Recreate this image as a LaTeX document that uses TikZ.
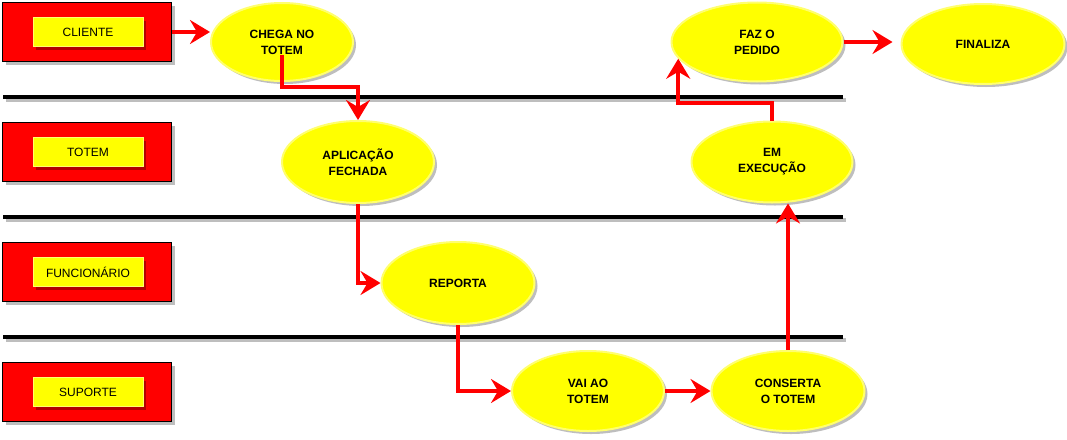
\documentclass[tikz,border=0pt]{standalone}
\usepackage{fontspec}
\setmainfont{Liberation Sans}
\usetikzlibrary{shapes.geometric,shadows,arrows.meta}
\definecolor{ylw}{RGB}{255,255,0}
\definecolor{ylwb}{RGB}{255,255,110}
\definecolor{drk}{RGB}{178,0,0}
\definecolor{shd}{RGB}{190,190,190}
\tikzset{
  lanebox/.style={rectangle, fill=red, draw=black, line width=1.3pt, minimum width=169pt, minimum height=59pt, inner sep=0pt,
    drop shadow={shadow xshift=3pt, shadow yshift=-3pt, fill=shd, opacity=1}},
  lanelabel/.style={rectangle, fill=ylw, draw=ylwb, line width=0.8pt, minimum width=110pt, minimum height=29pt, inner sep=0pt,
    font=\fontsize{12}{14}\selectfont,
    drop shadow={shadow xshift=3pt, shadow yshift=-3pt, fill=drk, opacity=1}},
  stepell/.style={ellipse, fill=ylw, draw=ylwb, line width=2pt, inner sep=0pt, align=center,
    font=\fontsize{12}{16}\selectfont\bfseries,
    drop shadow={shadow xshift=3pt, shadow yshift=-3pt, fill=shd, opacity=1}},
  arr/.style={draw=red, line width=4pt, -{Stealth[length=20pt,width=24pt,inset=7pt]}},
  laneline/.style={line width=4pt, draw=black},
  laneshadow/.style={line width=4pt, draw=shd}
}
\begin{document}
\begin{tikzpicture}[x=1pt,y=-1pt]
\useasboundingbox[fill=white] (0,0) rectangle (1067,439);
% lane lines
\foreach \yy in {97,217,337}{
  \draw[laneshadow] (6,\yy+3) -- (846,\yy+3);
  \draw[laneline] (3,\yy) -- (843,\yy);
}
% lane boxes
\node[lanebox] (bcli) at (87,32) {};
\node[lanelabel] (lcli) at (88,32) {CLIENTE};
\node[lanebox] (btot) at (87,152) {};
\node[lanelabel] (ltot) at (88,152) {TOTEM};
\node[lanebox] (bfun) at (87,272) {};
\node[lanelabel] (lfun) at (88,272) {FUNCIONÁRIO};
\node[lanebox] (bsup) at (87,392) {};
\node[lanelabel] (lsup) at (88,392) {SUPORTE};
% steps
\node[stepell, minimum width=142pt, minimum height=78pt] (chega) at (282,42) {CHEGA NO\\TOTEM};
\node[stepell, minimum width=152pt, minimum height=82pt] (aplic) at (358,162) {APLICAÇÃO\\FECHADA};
\node[stepell, minimum width=153pt, minimum height=82pt] (rep) at (458,283) {REPORTA};
\node[stepell, minimum width=152pt, minimum height=80pt] (vai) at (588,391) {VAI AO\\TOTEM};
\node[stepell, minimum width=153pt, minimum height=80pt] (cons) at (788,391) {CONSERTA\\O TOTEM};
\node[stepell, minimum width=161pt, minimum height=81pt] (exec) at (772,162) {EM\\EXECUÇÃO};
\node[stepell, minimum width=171pt, minimum height=79pt] (faz) at (757,42) {FAZ O\\PEDIDO};
\node[stepell, minimum width=163pt, minimum height=80pt] (fin) at (983,44) {FINALIZA};
% connectors
\draw[arr] (bcli.east) -- (bcli.east -| chega.west);
\draw[arr] ([yshift=-13pt]chega.center) -- ++(0,32) -| (aplic.north);
\draw[arr] (aplic.south) |- (rep.west);
\draw[arr] (rep.south) |- (vai.west);
\draw[arr] (vai.east) -- (cons.west);
\draw[arr] (cons.north) -- (cons.north |- exec.south);
\draw[arr] (exec.north) -- ++(0,-18) -| (faz.192);
\draw[arr] (faz.east) -- ([xshift=-8pt]fin.west |- faz.east);
\end{tikzpicture}
\end{document}
